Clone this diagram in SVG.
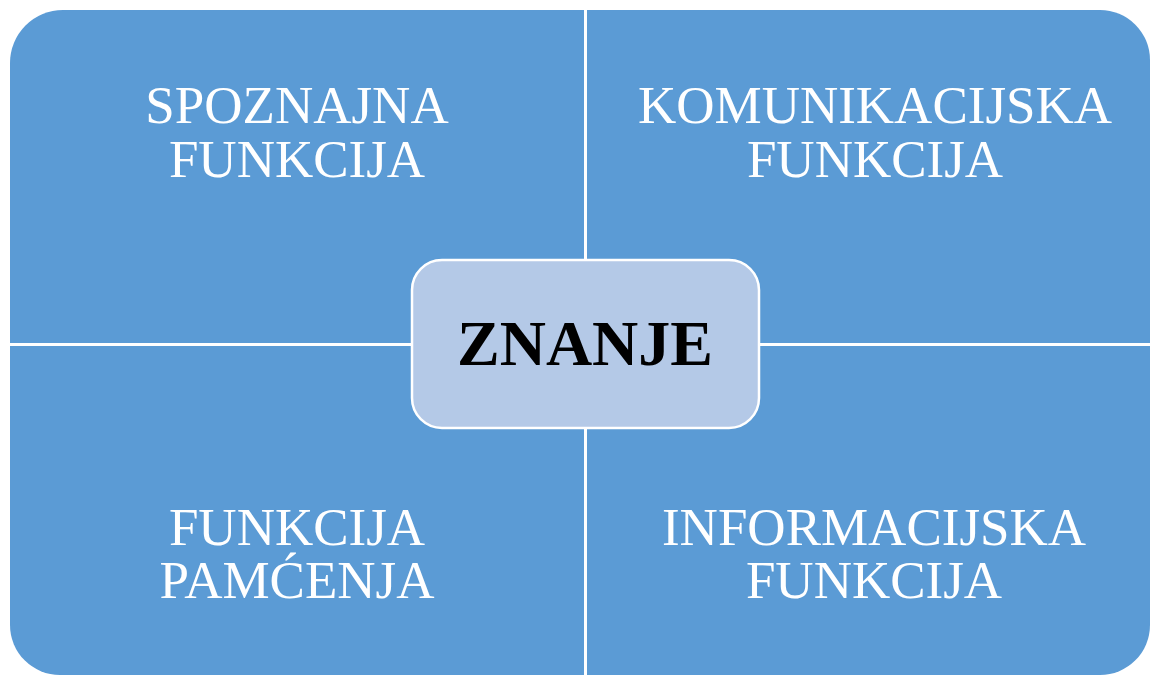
<svg xmlns="http://www.w3.org/2000/svg" width="1151" height="675" viewBox="0 0 1151 675">
  <style>
    .q { fill: #5b9bd5; }
    .lbl { font-family: "Liberation Serif", "Times New Roman", serif; font-size: 53px; fill: #ffffff; text-anchor: middle; }
    .ctr { font-family: "Liberation Serif", "Times New Roman", serif; font-size: 64px; font-weight: bold; fill: #000000; text-anchor: middle; }
  </style>
  <rect width="1151" height="675" fill="#ffffff"/>
  <g id="spoznajna">
    <path class="q" d="M10,63 A53,53 0 0 1 63,10 L584,10 L584,343 L10,343 Z"/>
    <text class="lbl" x="297" y="123">SPOZNAJNA</text>
    <text class="lbl" x="297" y="177">FUNKCIJA</text>
  </g>
  <g id="komunikacijska">
    <path class="q" d="M587,10 L1100,10 A50,50 0 0 1 1150,60 L1150,343 L587,343 Z"/>
    <text class="lbl" x="875" y="123">KOMUNIKACIJSKA</text>
    <text class="lbl" x="875" y="177">FUNKCIJA</text>
  </g>
  <g id="pamcenja">
    <path class="q" d="M10,346 L584,346 L584,675 L60,675 A50,50 0 0 1 10,625 Z"/>
    <text class="lbl" x="297" y="545">FUNKCIJA</text>
    <text class="lbl" x="297" y="598">PAMĆENJA</text>
  </g>
  <g id="informacijska">
    <path class="q" d="M587,346 L1150,346 L1150,625 A50,50 0 0 1 1100,675 L587,675 Z"/>
    <text class="lbl" x="874" y="545">INFORMACIJSKA</text>
    <text class="lbl" x="874" y="598">FUNKCIJA</text>
  </g>
  <g id="connectors"></g>
  <g id="znanje">
    <rect x="412" y="260" width="347" height="168" rx="30" ry="30" fill="#b4c9e7" stroke="#ffffff" stroke-width="2.5"/>
    <text class="ctr" x="585" y="365">ZNANJE</text>
  </g>
</svg>
